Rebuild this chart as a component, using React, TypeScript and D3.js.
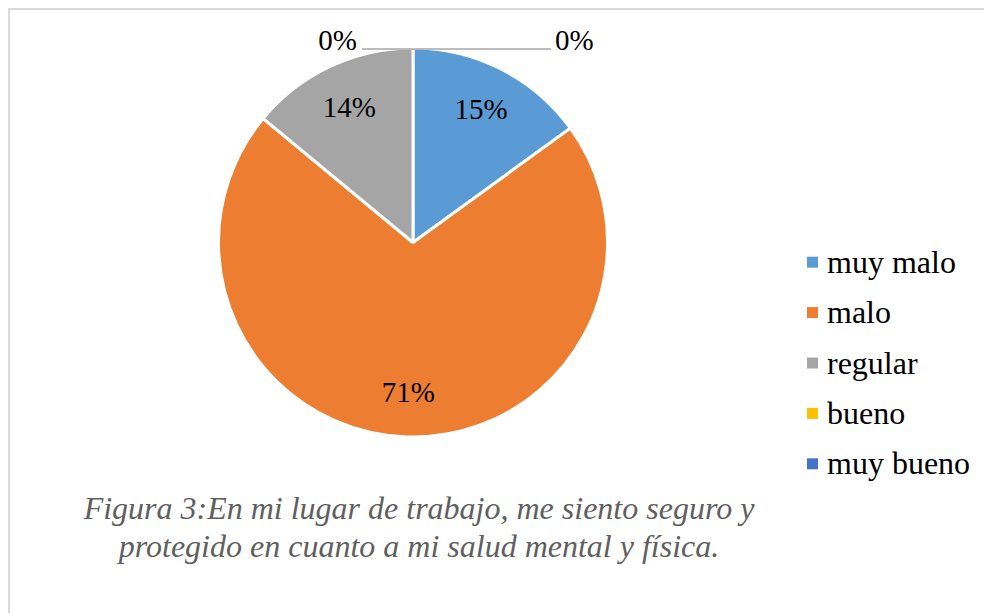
import { useMemo } from 'react';
import * as d3 from 'd3';

const categories = ['muy malo', 'malo', 'regular', 'bueno', 'muy bueno'];
const values = [15, 71, 14, 0, 0];
const labels = ['15%', '71%', '14%', '0%', '0%'];
const colors = ['#5B9BD5', '#ED7D31', '#A5A5A5', '#FFC000', '#4472C4'];
const captionLines = [
  'Figura 3:En mi lugar de trabajo, me siento seguro y',
  'protegido en cuanto a mi salud mental y física.',
];

const W = 984;
const H = 613;
const cx = 413;
const cy = 242.5;
const R = 194.5;

export default function App() {
  const arcs = useMemo(
    () => d3.pie<number>().sort(null).startAngle(0).endAngle(2 * Math.PI)(values),
    []
  );
  const arcGen = d3.arc<d3.PieArcDatum<number>>().innerRadius(0).outerRadius(R);
  const labelArc = d3.arc<d3.PieArcDatum<number>>().innerRadius(R * 0.77).outerRadius(R * 0.77);

  const legendY = d3.scaleBand<string>().domain(categories).range([237, 489]);

  // zero-value slices sit at the top of the pie; their labels go out left and right
  const zero = arcs.filter((a) => a.data === 0);
  const zeroSides = [
    { dx: -51, anchor: 'end', gap: -5 },
    { dx: 138, anchor: 'start', gap: 4 },
  ];

  return (
    <svg
      width={W}
      height={H}
      style={{ position: 'absolute', left: 0, top: 0, background: '#fff' }}
      fontFamily="'Liberation Serif', 'Times New Roman', serif"
    >
      <rect x={9} y={9} width={W + 20} height={H + 20} fill="#fff" stroke="#d9d9d9" strokeWidth={2} />
      <g transform={`translate(${cx},${cy})`}>
        {arcs.map((a, i) =>
          a.data > 0 ? (
            <path key={i} d={arcGen(a) ?? ''} fill={colors[i]} stroke="#fff" strokeWidth={3} strokeLinejoin="round" />
          ) : null
        )}
        {arcs.map((a, i) => {
          if (a.data === 0) return null;
          const [x, y] = labelArc.centroid(a);
          return (
            <text key={i} x={x} y={y} fontSize={29} textAnchor="middle" dy="0.35em" fill="#000">
              {labels[i]}
            </text>
          );
        })}
        {zero.map((a, k) => {
          const i = a.index;
          const ang = a.startAngle;
          const px = R * Math.sin(ang);
          const py = -R * Math.cos(ang) + 1;
          const s = zeroSides[k];
          return (
            <g key={i}>
              <line x1={px} y1={py} x2={px + s.dx} y2={py} stroke="#a6a6a6" strokeWidth={1.5} />
              <text
                x={px + s.dx + s.gap}
                y={py + 1}
                fontSize={29}
                textAnchor={s.anchor as 'start' | 'end'}
                fill="#000"
              >
                {labels[i]}
              </text>
            </g>
          );
        })}
      </g>
      <g>
        {categories.map((c, i) => {
          const y = (legendY(c) ?? 0) + legendY.bandwidth() / 2;
          return (
            <g key={c}>
              <rect x={807} y={y - 5.5} width={11} height={11} fill={colors[i]} />
              <text x={827} y={y} dy="0.33em" fontSize={32} fill="#000">
                {c}
              </text>
            </g>
          );
        })}
      </g>
      <g fontStyle="italic" fill="#5f5f5f" fontSize={32} textAnchor="middle">
        <text x={419} y={519}>{captionLines[0]}</text>
        <text x={419} y={557}>{captionLines[1]}</text>
      </g>
    </svg>
  );
}
